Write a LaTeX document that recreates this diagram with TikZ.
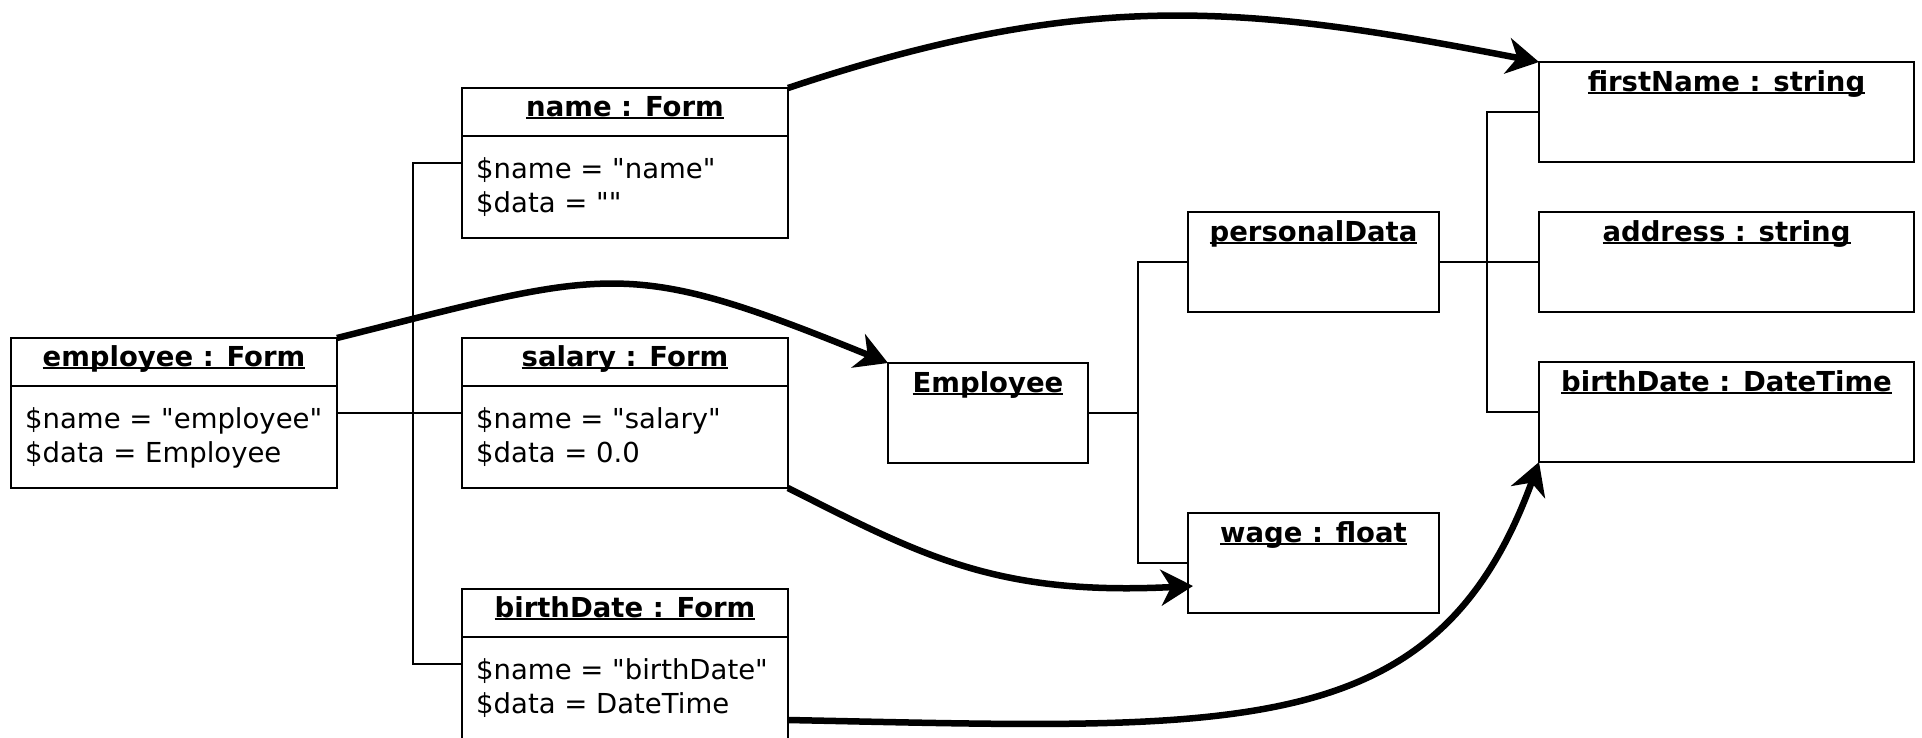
\documentclass[tikz,border=0pt]{standalone}
\usepackage{fontspec}
\setmainfont{DejaVu Sans}
\usetikzlibrary{arrows.meta,positioning}
\newcommand{\ultitle}[1]{\setbox0\hbox{#1}\rlap{\raisebox{-3.4pt}{\rule{\wd0}{2.3pt}}}\box0}
\newcommand{\q}{\textquotedbl}
\tikzset{
  objbox/.style={draw,line width=2pt,inner sep=0pt,outer sep=0pt},
  formbox/.style={objbox,minimum width=326pt,minimum height=150pt},
  valbox/.style={objbox,minimum width=251pt,minimum height=100pt},
  attrbox/.style={objbox,minimum width=375pt,minimum height=100pt},
  objtitle/.style={font=\bfseries\fontsize{27.5}{34}\selectfont,inner sep=0pt,anchor=base},
  objattr/.style={font=\fontsize{27.5}{34}\selectfont,inner sep=0pt,anchor=base west,align=left},
  link/.style={line width=2pt},
  pointer/.style={-{Stealth[length=32pt,width=36pt,inset=10pt]},line width=6.5pt}
}
\begin{document}
\begin{tikzpicture}[x=1pt,y=-1pt]
\useasboundingbox (0,0) rectangle (1922,737);
% form objects
\node[formbox,anchor=north west] (salF) at (462,338) {};
\node[formbox,above=100pt of salF] (nameF) {};
\node[formbox,below=101pt of salF] (bdF) {};
\node[formbox,left=125pt of salF] (empF) {};
\foreach \f in {empF,nameF,salF,bdF}
  \draw[link] ([yshift=-48pt]\f.north west) -- ([yshift=-48pt]\f.north east);
\node[objtitle] (empFt) at ([yshift=-28pt]empF.north) {\ultitle{employee : Form}};
\node[objtitle] (nameFt) at ([yshift=-28pt]nameF.north) {\ultitle{name : Form}};
\node[objtitle] (salFt) at ([yshift=-28pt]salF.north) {\ultitle{salary : Form}};
\node[objtitle] (bdFt) at ([yshift=-28pt]bdF.north) {\ultitle{birthDate : Form}};
\node[objattr] (empFa) at ([xshift=14pt,yshift=-124pt]empF.north west) {\$name = \q employee\q\\\$data = Employee};
\node[objattr] (nameFa) at ([xshift=14pt,yshift=-124pt]nameF.north west) {\$name = \q name\q\\\$data = \q\q};
\node[objattr] (salFa) at ([xshift=14pt,yshift=-124pt]salF.north west) {\$name = \q salary\q\\\$data = 0.0};
\node[objattr] (bdFa) at ([xshift=14pt,yshift=-124pt]bdF.north west) {\$name = \q birthDate\q\\\$data = DateTime};
% data objects
\node[objbox,minimum width=200pt,minimum height=100pt,right=100pt of salF] (emp) {};
\node[valbox,above right=51pt and 100pt of emp] (pdata) {};
\node[valbox,below right=50pt and 100pt of emp] (wage) {};
\node[attrbox,right=100pt of pdata] (addr) {};
\node[attrbox,above=50pt of addr] (fname) {};
\node[attrbox,below=50pt of addr] (bdate) {};
\node[objtitle] (empt) at ([yshift=-29pt]emp.north) {\ultitle{Employee}};
\node[objtitle] (pdatat) at ([yshift=-29pt]pdata.north) {\ultitle{personalData}};
\node[objtitle] (waget) at ([yshift=-29pt]wage.north) {\ultitle{wage : float}};
\node[objtitle] (fnamet) at ([yshift=-29pt]fname.north) {\ultitle{firstName : string}};
\node[objtitle] (addrt) at ([yshift=-29pt]addr.north) {\ultitle{address : string}};
\node[objtitle] (bdatet) at ([yshift=-29pt]bdate.north) {\ultitle{birthDate : DateTime}};
% composition lines
\coordinate (busA) at ([xshift=-49pt]nameF.west);
\coordinate (busB) at ([xshift=-50pt]pdata.west);
\coordinate (busC) at ([xshift=-52pt]fname.west);
\draw[link] (empF.east) -- (salF.west);
\draw[link] (nameF.west) -- (busA) |- (bdF.west);
\draw[link] (emp.east) -- (emp.east -| busB);
\draw[link] (pdata.west) -- (busB) |- (wage.west);
\draw[link] (pdata.east) -- (addr.west);
\draw[link] (fname.west) -- (busC) |- (bdate.west);
% bindings
\draw[pointer] (nameF.north east) .. controls +(300,-100) and +(-294,-57) .. (fname.north west);
\draw[pointer] (empF.north east) .. controls +(275,-69) and +(-263,-107) .. (emp.north west);
\draw[pointer] (salF.south east) .. controls +(133,67) and +(-198,10) .. ([xshift=5pt,yshift=-23pt]wage.west);
\draw[pointer] ([yshift=-131pt]bdF.north east) .. controls +(450,9) and +(-103,283) .. (bdate.south west);
\end{tikzpicture}
\end{document}
